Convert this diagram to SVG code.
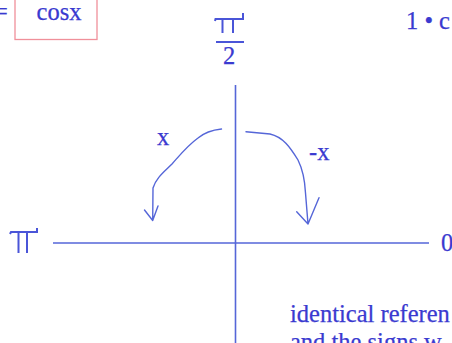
<svg xmlns="http://www.w3.org/2000/svg" width="452" height="343" viewBox="0 0 452 343">
<style>
.t{font-family:"Liberation Serif","Times New Roman",serif;fill:#3a3ad0;font-size:24.5px;stroke:#3a3ad0;stroke-width:0.25}
.ax{stroke:#5566d8;stroke-width:1.6;fill:none}
.pen{stroke:#5566d8;stroke-width:1.4;fill:none;stroke-linejoin:round;stroke-linecap:round}
.pi{stroke:#4a55d8;stroke-width:2;fill:none}
</style>
<rect width="452" height="343" fill="#ffffff"/>
<g id="eq"><text class="t" x="-6" y="20">=</text></g>
<g id="cosx-box">
<rect x="15" y="-5" width="82" height="44.5" fill="none" stroke="#f0909a" stroke-width="1.3"/>
<text class="t" x="59" y="20" text-anchor="middle" font-size="27">cosx</text>
</g>
<g id="top-right"><text class="t" x="406" y="29">1 • c</text></g>
<g id="pi-half">
<path class="pi" d="M215,21 L215.5,19 L243,19 L243,13 M222.5,19 L222.5,33 M233,19 L233,33"/>
<line class="pi" x1="216" y1="42" x2="244" y2="42"/>
<text class="t" x="229" y="64" text-anchor="middle">2</text>
</g>
<g id="pi-left">
<path class="pi" d="M10,234 L11,232 L37,232 L37,228 M18.5,232 L18.5,253 M27,232 L27,253"/>
</g>
<g id="zero"><text class="t" x="441" y="251">0</text></g>
<g id="connectors">
<line class="ax" x1="53" y1="243" x2="429" y2="243"/>
<line class="ax" x1="235.5" y1="85" x2="235.5" y2="343"/>
<path class="pen" d="M221.5,129 C212,130 204,133 198,138 C187,146 180,155 172,164 C164,172 156,178 153,188 L152.7,220.5 M144.5,210 L152.7,220.5 L158,206"/>
<path class="pen" d="M246,131.7 L270,134 C283,137 290,147 298,160 C304,172 305,183 305.5,193 L308,224 M296.7,211.7 L308,224 L319,197.7"/>
</g>
<g id="lbl-x"><text class="t" x="157" y="145">x</text></g>
<g id="lbl-negx"><text class="t" x="309" y="160">-x</text></g>
<g id="caption">
<text class="t" x="290" y="322">identical referen</text>
<text class="t" x="290" y="350">and the signs w</text>
</g>
</svg>
